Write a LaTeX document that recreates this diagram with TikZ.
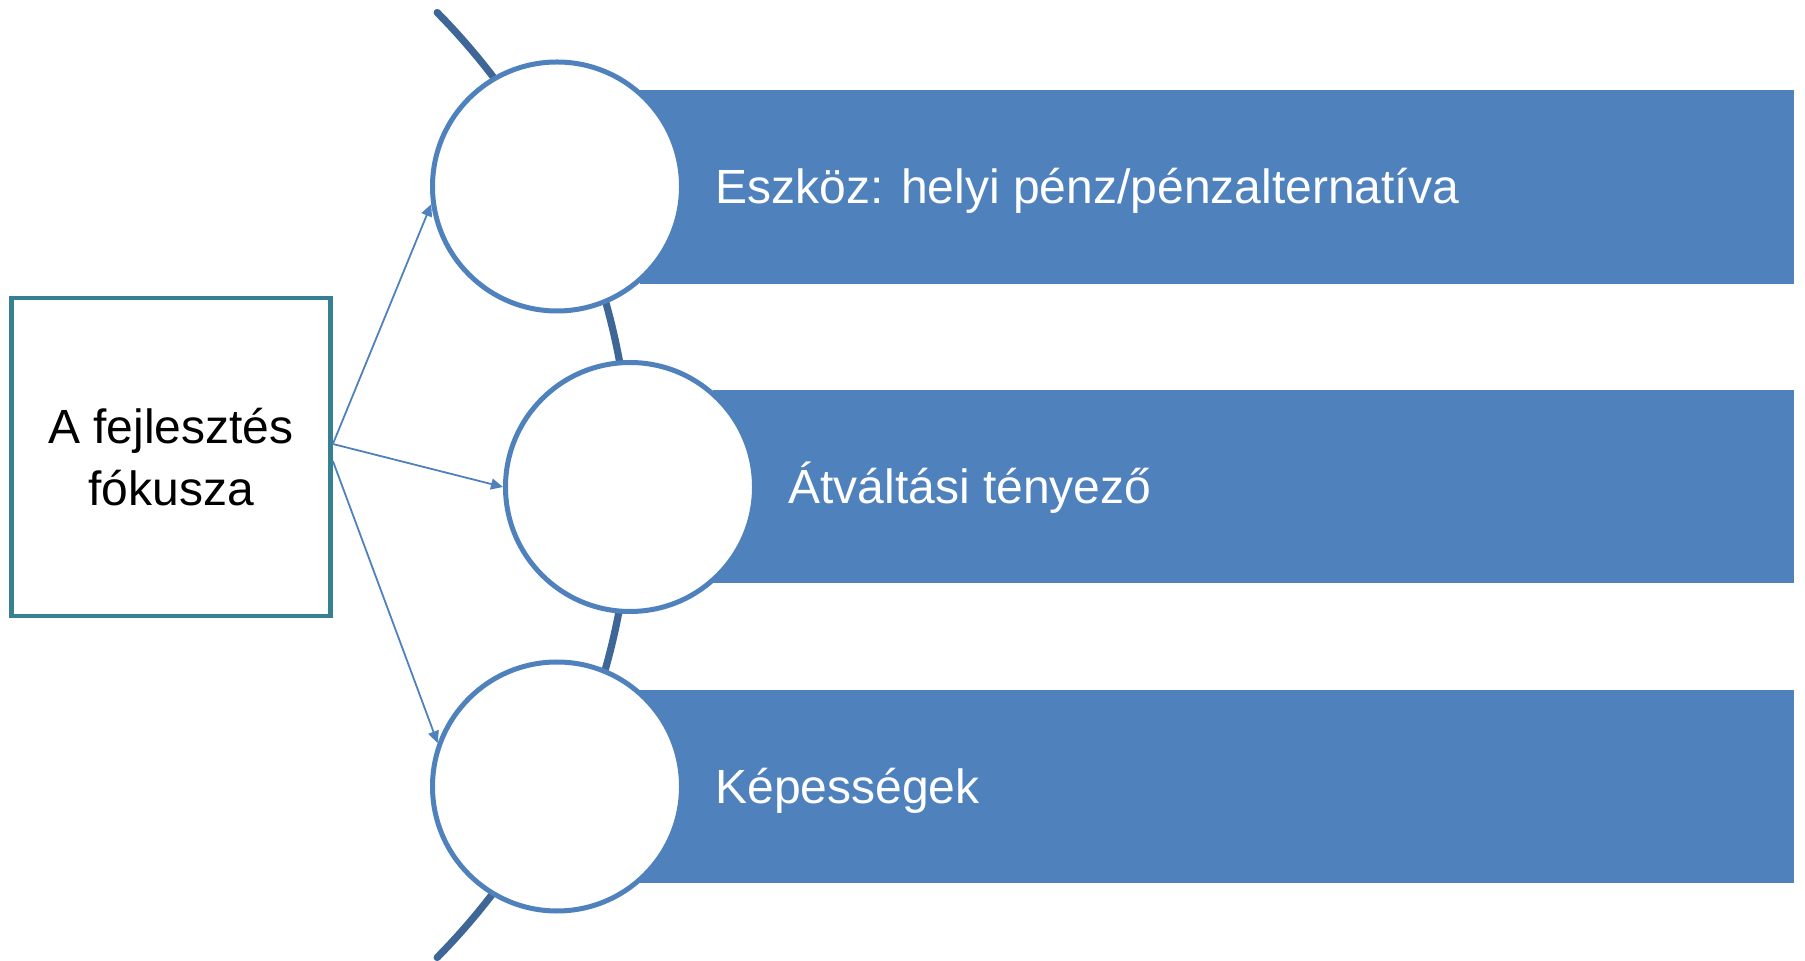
\documentclass[tikz,border=0pt]{standalone}
\usepackage{fontspec}
\setmainfont{Liberation Sans}
\usetikzlibrary{arrows.meta}
\definecolor{barblue}{RGB}{79,129,189}
\definecolor{arcblue}{RGB}{62,102,150}
\definecolor{boxteal}{RGB}{55,128,145}
\tikzset{ring/.style={circle,draw=barblue,fill=white,line width=2.5pt,minimum size=124.5pt,inner sep=0},
  focusbox/.style={draw=boxteal,line width=2.4pt,minimum width=159.5pt,minimum height=159pt,align=center,font=\fontsize{24}{31}\selectfont},
  bartext/.style={anchor=base west,inner sep=0,text=white,font=\fontsize{24}{28}\selectfont},
  link/.style={draw=barblue,line width=0.9pt,-{Triangle[length=6pt,width=5.5pt]}}}

\begin{document}
\begin{tikzpicture}[x=0.5pt,y=-0.5pt]
 \useasboundingbox (0,0) rectangle (1805,961);
 \draw[arcblue,line width=3.6pt,line cap=round] (-42,485) ++(-44.6:673) arc[start angle=-44.6,end angle=44.6,radius=673];
 \fill[barblue] (640,90) rectangle (1794,284);
 \fill[barblue] (713,390) rectangle (1794,583);
 \fill[barblue] (640,690) rectangle (1794,883);
 \node[ring] (c1) at (557,186.5) {};
 \node[ring] (c2) at (630,487) {};
 \node[ring] (c3) at (557,786.5) {};
 \node[bartext] (t1) at ([xshift=15.5pt,yshift=-8.5pt]c1.east) {Eszköz: helyi pénz/pénzalternatíva};
 \node[bartext] (t2) at ([xshift=15.5pt,yshift=-8.5pt]c2.east) {Átváltási tényező};
 \node[bartext] (t3) at ([xshift=15.5pt,yshift=-8.5pt]c3.east) {Képességek};
 \node[focusbox] (focus) at (171,457) {A fejlesztés\\fókusza};
 \draw[link] ([yshift=6.5pt]focus.east) -- (c1.188);
 \draw[link] ([yshift=6.5pt]focus.east) -- (c2.west);
 \draw[link] ([yshift=-2pt]focus.east) -- (c3.160);
\end{tikzpicture}
\end{document}
